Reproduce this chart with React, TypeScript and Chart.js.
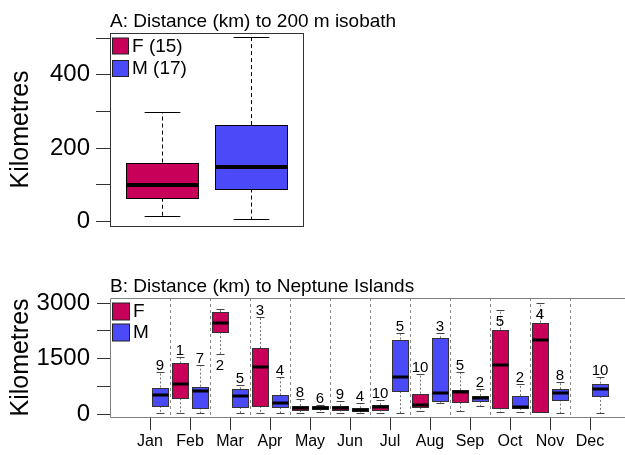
import React, { useEffect, useRef } from "react";
import { Chart, registerables } from "chart.js";

Chart.register(...registerables);

// ---------- Panel A data ----------
const groupsA = ["F", "M"];
const nA = [15, 17];
const aMin = [14, 6];
const aQ1 = [65, 90];
const aMed = [99, 149];
const aQ3 = [161, 263];
const aMax = [300, 502];
const ticksA = [0, 100, 200, 300, 400, 500];
const labelledA = [0, 200, 400];

// ---------- Panel B data ----------
const months = ["Jan", "Feb", "Mar", "Apr", "May", "Jun", "Jul", "Aug", "Sep", "Oct", "Nov", "Dec"];
const fMin = [null, 35, 1635, 35, 35, 35, 35, 80, 80, 60, 55, null];
const fQ1 = [null, 430, 2220, 225, 110, 125, 125, 190, 325, 180, 70, null];
const fMed = [null, 810, 2470, 1275, 180, 180, 195, 250, 595, 1330, 1995, null];
const fQ3 = [null, 1370, 2755, 1785, 225, 215, 245, 555, 645, 2280, 2470, null];
const fMax = [null, 1545, 2830, 2620, 405, 350, 375, 1095, 1140, 2805, 3010, null];
const fN = [null, 1, 2, 3, 8, 9, 10, 10, 5, 5, 4, null];

const mMin = [35, 35, 35, 35, 60, 35, 35, 305, 215, 60, 35, 35];
const mQ1 = [225, 180, 195, 190, 140, 100, 620, 360, 360, 170, 395, 495];
const mMed = [530, 630, 495, 315, 180, 125, 1000, 575, 440, 195, 575, 690];
const mQ3 = [720, 745, 675, 510, 225, 160, 2015, 2050, 495, 495, 675, 825];
const mMax = [1140, 1320, 780, 1005, 245, 290, 2200, 2200, 675, 825, 870, 1005];
const mN = [9, 7, 5, 4, 6, 4, 5, 3, 2, 2, 8, 10];

const ticksB = [0, 750, 1500, 2250, 3000];
const labelledB = [0, 1500, 3000];

const COLOR_F = "#C8005A";
const COLOR_M = "#4A4AF8";
const FONT = "'Liberation Sans', Arial, Helvetica, sans-serif";

type Stats = { min: number; q1: number; med: number; q3: number; max: number };
type BoxStyle = {
  whiskerColor: string;
  dash: number[];
  capColor: string;
  boxBorder: string;
  medW: number;
};

const px = (v: number) => Math.round(v) + 0.5;

function drawBox(ctx: CanvasRenderingContext2D, xs: any, ys: any, pos: number, halfW: number, s: Stats, fill: string, st: BoxStyle) {
  const xl = xs.getPixelForValue(pos - halfW);
  const xr = xs.getPixelForValue(pos + halfW);
  const xc = px(xs.getPixelForValue(pos));
  const capHalf = (xr - xl) / 4;
  const yMin = px(ys.getPixelForValue(s.min));
  const yQ1 = ys.getPixelForValue(s.q1);
  const yMed = ys.getPixelForValue(s.med);
  const yQ3 = ys.getPixelForValue(s.q3);
  const yMax = px(ys.getPixelForValue(s.max));
  ctx.save();
  ctx.lineWidth = 1;
  ctx.strokeStyle = st.whiskerColor;
  ctx.setLineDash(st.dash);
  ctx.beginPath();
  ctx.moveTo(xc, yQ3);
  ctx.lineTo(xc, yMax);
  ctx.moveTo(xc, yQ1);
  ctx.lineTo(xc, yMin);
  ctx.stroke();
  ctx.setLineDash([]);
  ctx.strokeStyle = st.capColor;
  ctx.beginPath();
  ctx.moveTo(xc - capHalf, yMax);
  ctx.lineTo(xc + capHalf, yMax);
  ctx.moveTo(xc - capHalf, yMin);
  ctx.lineTo(xc + capHalf, yMin);
  ctx.stroke();
  const bx = px(xl), by = px(yQ3);
  const bw = Math.round(xr) - Math.round(xl);
  const bh = Math.round(yQ1) - Math.round(yQ3);
  ctx.fillStyle = fill;
  ctx.fillRect(bx, by, bw, bh);
  ctx.strokeStyle = st.boxBorder;
  ctx.strokeRect(bx, by, bw, bh);
  ctx.lineWidth = st.medW;
  ctx.strokeStyle = "#000";
  ctx.beginPath();
  ctx.moveTo(bx, Math.round(yMed));
  ctx.lineTo(bx + bw, Math.round(yMed));
  ctx.stroke();
  ctx.restore();
}

function yTitle(ctx: CanvasRenderingContext2D, x: number, cy: number) {
  ctx.save();
  ctx.translate(x, cy);
  ctx.rotate(-Math.PI / 2);
  ctx.font = `25px ${FONT}`;
  ctx.fillStyle = "#000";
  ctx.textAlign = "center";
  ctx.textBaseline = "alphabetic";
  ctx.fillText("Kilometres", 0, 0);
  ctx.restore();
}

function legend(ctx: CanvasRenderingContext2D, x: number, ys: number[], size: number, labels: string[], colors: string[]) {
  ctx.save();
  ctx.font = `19px ${FONT}`;
  ctx.textAlign = "left";
  ctx.textBaseline = "middle";
  labels.forEach((lab, i) => {
    ctx.fillStyle = colors[i];
    ctx.fillRect(x + 0.5, ys[i] + 0.5, size, size);
    ctx.strokeStyle = "#222";
    ctx.lineWidth = 1;
    ctx.strokeRect(x + 0.5, ys[i] + 0.5, size, size);
    ctx.fillStyle = "#000";
    ctx.fillText(lab, x + size + 4, ys[i] + size / 2 + 1);
  });
  ctx.restore();
}

const styleA: BoxStyle = { whiskerColor: "#000", dash: [4, 3], capColor: "#000", boxBorder: "#000", medW: 4 };
const styleB: BoxStyle = { whiskerColor: "#777", dash: [2, 2], capColor: "#444", boxBorder: "#333", medW: 3 };

const pluginA = {
  id: "boxA",
  afterDatasetsDraw(chart: any) {
    const { ctx, chartArea: a, scales } = chart;
    groupsA.forEach((g, i) => {
      drawBox(ctx, scales.x, scales.y, i + 1, 0.4,
        { min: aMin[i], q1: aQ1[i], med: aMed[i], q3: aQ3[i], max: aMax[i] },
        i === 0 ? COLOR_F : COLOR_M, styleA);
    });
    ctx.save();
    ctx.strokeStyle = "#333";
    ctx.lineWidth = 1;
    ctx.strokeRect(px(a.left), px(a.top), Math.round(a.right - a.left), Math.round(a.bottom - a.top));
    ctx.font = `19px ${FONT}`;
    ctx.fillStyle = "#000";
    ctx.textAlign = "left";
    ctx.textBaseline = "alphabetic";
    ctx.fillText("A: Distance (km) to 200 m isobath", a.left, 27);
    ctx.restore();
    legend(ctx, 112, [37.5, 60], 16, groupsA.map((g, i) => `${g} (${nA[i]})`), [COLOR_F, COLOR_M]);
    yTitle(ctx, 28, (a.top + a.bottom) / 2);
  },
};

const pluginB = {
  id: "boxB",
  afterDatasetsDraw(chart: any) {
    const { ctx, chartArea: a, scales } = chart;
    const xs = scales.x, ys = scales.y;
    // separators
    ctx.save();
    ctx.strokeStyle = "#888";
    ctx.lineWidth = 1;
    ctx.setLineDash([3, 3]);
    ctx.beginPath();
    for (let i = 1; i < months.length; i++) {
      const x = px(xs.getPixelForValue(i + 0.5));
      ctx.moveTo(x, a.top);
      ctx.lineTo(x, a.bottom);
    }
    ctx.stroke();
    ctx.restore();

    const labels: { x: number; s: Stats; n: number }[] = [];
    months.forEach((m, i) => {
      if (fMed[i] !== null) {
        const s = { min: fMin[i]!, q1: fQ1[i]!, med: fMed[i]!, q3: fQ3[i]!, max: fMax[i]! };
        drawBox(ctx, xs, ys, i + 1 - 0.25, 0.2, s, COLOR_F, styleB);
        labels.push({ x: i + 1 - 0.25, s, n: fN[i]! });
      }
      if (mMed[i] !== null) {
        const s = { min: mMin[i], q1: mQ1[i], med: mMed[i], q3: mQ3[i], max: mMax[i] };
        drawBox(ctx, xs, ys, i + 1 + 0.25, 0.2, s, COLOR_M, styleB);
        labels.push({ x: i + 1 + 0.25, s, n: mN[i] });
      }
    });
    ctx.save();
    ctx.font = `15px ${FONT}`;
    ctx.fillStyle = "#000";
    ctx.textAlign = "center";
    labels.forEach((l) => {
      const xc = xs.getPixelForValue(l.x);
      const capY = ys.getPixelForValue(l.s.max);
      const q3Y = ys.getPixelForValue(l.s.q3);
      const minY = ys.getPixelForValue(l.s.min);
      if (capY - 15 >= a.top) {
        ctx.textBaseline = "alphabetic";
        ctx.fillText(String(l.n), xc, capY - 2);
      } else if (q3Y - capY >= 16) {
        ctx.textBaseline = "alphabetic";
        ctx.fillText(String(l.n), xc, capY + 16);
      } else {
        ctx.textBaseline = "alphabetic";
        ctx.fillText(String(l.n), xc, minY + 16);
      }
    });
    ctx.restore();

    // frame (right edge runs off the page)
    ctx.save();
    ctx.strokeStyle = "#808080";
    ctx.lineWidth = 1;
    ctx.beginPath();
    ctx.moveTo(chart.width + 5, px(a.top));
    ctx.lineTo(px(a.left), px(a.top));
    ctx.lineTo(px(a.left), px(a.bottom));
    ctx.lineTo(chart.width + 5, px(a.bottom));
    ctx.stroke();
    ctx.font = `19px ${FONT}`;
    ctx.fillStyle = "#000";
    ctx.textAlign = "left";
    ctx.textBaseline = "alphabetic";
    ctx.fillText("B: Distance (km) to Neptune Islands", a.left, 292);
    ctx.restore();
    legend(ctx, 112, [302.5, 323.5], 17, ["F", "M"], [COLOR_F, COLOR_M]);
    yTitle(ctx, 28, (a.top + a.bottom) / 2);
  },
};

export default function App() {
  const refA = useRef<HTMLCanvasElement>(null);
  const refB = useRef<HTMLCanvasElement>(null);

  useEffect(() => {
    const chartA = new Chart(refA.current!, {
      type: "scatter",
      data: {
        datasets: [
          {
            data: groupsA.map((g, i) => ({ x: i + 1, y: aMed[i] })),
            pointRadius: 0,
            showLine: false,
          },
        ],
      },
      options: {
        responsive: false,
        animation: false,
        events: [],
        layout: { padding: { left: 0, right: 322, top: 33, bottom: 229 } },
        plugins: { legend: { display: false }, tooltip: { enabled: false }, title: { display: false } },
        scales: {
          x: { type: "linear", display: false, min: 0.42, max: 2.58 },
          y: {
            type: "linear",
            position: "left",
            min: -12,
            max: 514,
            afterBuildTicks: (s: any) => {
              s.ticks = ticksA.map((v) => ({ value: v }));
            },
            afterFit: (s: any) => {
              s.width = 110;
            },
            grid: { drawOnChartArea: false, drawTicks: true, tickLength: 14, color: "#333", tickColor: "#333" },
            border: { display: false },
            ticks: {
              autoSkip: false,
              padding: 6,
              color: "#000",
              font: { size: 24, family: FONT },
              callback: (v: any) => (labelledA.includes(Number(v)) ? String(v) : ""),
            },
          },
        },
      } as any,
      plugins: [pluginA],
    });

    const chartB = new Chart(refB.current!, {
      type: "scatter",
      data: {
        datasets: [
          {
            data: months.map((m, i) => ({ x: i + 1, y: mMed[i] })),
            pointRadius: 0,
            showLine: false,
          },
        ],
      },
      options: {
        responsive: false,
        animation: false,
        events: [],
        layout: { padding: { left: 0, right: 0, top: 298, bottom: 0 } },
        plugins: { legend: { display: false }, tooltip: { enabled: false }, title: { display: false } },
        scales: {
          x: {
            type: "linear",
            min: 0,
            max: 12.875,
            afterBuildTicks: (s: any) => {
              s.ticks = months.map((m, i) => ({ value: i + 1 }));
            },
            afterFit: (s: any) => {
              s.height = 38;
            },
            grid: { drawOnChartArea: false, drawTicks: true, tickLength: 13, color: "#333", tickColor: "#333" },
            border: { display: false },
            ticks: {
              autoSkip: false,
              maxRotation: 0,
              padding: 2,
              color: "#000",
              font: { size: 16, family: FONT },
              callback: (v: any) => months[Number(v) - 1] ?? "",
            },
          },
          y: {
            type: "linear",
            position: "left",
            min: -75,
            max: 3135,
            afterBuildTicks: (s: any) => {
              s.ticks = ticksB.map((v) => ({ value: v }));
            },
            afterFit: (s: any) => {
              s.width = 110;
            },
            grid: { drawOnChartArea: false, drawTicks: true, tickLength: 13, color: "#333", tickColor: "#333" },
            border: { display: false },
            ticks: {
              autoSkip: false,
              padding: 7,
              color: "#000",
              font: { size: 24, family: FONT },
              callback: (v: any) => (labelledB.includes(Number(v)) ? String(v) : ""),
            },
          },
        },
      } as any,
      plugins: [pluginB],
    });

    return () => {
      chartA.destroy();
      chartB.destroy();
    };
  }, []);

  const cStyle: React.CSSProperties = { position: "absolute", left: 0, top: 0, display: "block" };
  return (
    <div style={{ position: "absolute", left: 0, top: 0, width: 625, height: 455, overflow: "hidden", background: "#fff" }}>
      <canvas ref={refA} width={625} height={455} style={cStyle} />
      <canvas ref={refB} width={625} height={455} style={cStyle} />
    </div>
  );
}
